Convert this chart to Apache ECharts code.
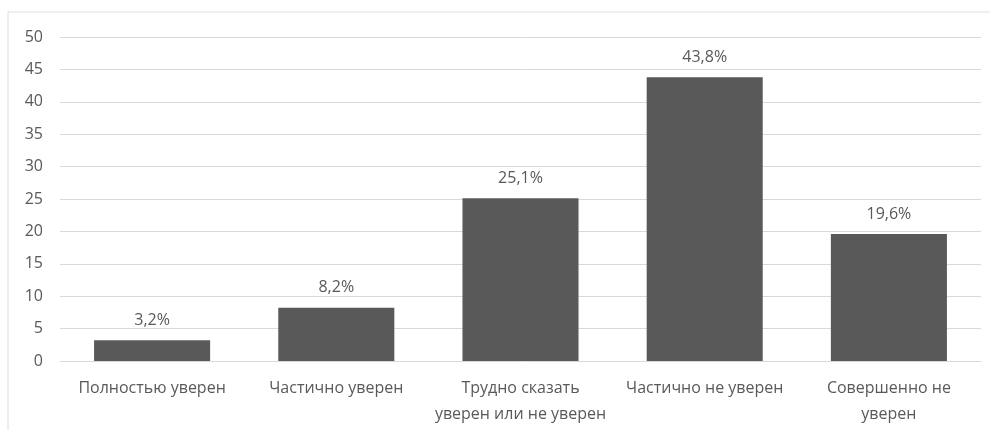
<!DOCTYPE html>
<html>
<head>
<meta charset="utf-8">
<script src="https://cdn.jsdelivr.net/npm/echarts@6/dist/echarts.min.js"></script>
<style>
html,body{margin:0;padding:0;background:#fff;}
#c{width:990px;height:430px;}
</style>
</head>
<body>
<div id="c"></div>
<script>
var categories = ['Полностью уверен', 'Частично уверен', 'Трудно сказать\nуверен или не уверен', 'Частично не уверен', 'Совершенно не\nуверен'];
var values = [3.2, 8.2, 25.1, 43.8, 19.6];
var yTicks = [0, 5, 10, 15, 20, 25, 30, 35, 40, 45, 50];

var chart = echarts.init(document.getElementById('c'), null, {renderer: 'canvas'});
var font = '"Open Sans", "Noto Sans", sans-serif';
chart.setOption({
  animation: false,
  backgroundColor: '#fff',
  graphic: [{
    type: 'rect',
    shape: {x: 8, y: 12, width: 1000, height: 500},
    style: {fill: 'none', stroke: '#dedede', lineWidth: 1},
    silent: true
  }],
  grid: {left: 60, right: 9, top: 37, bottom: 69, containLabel: false},
  xAxis: {
    type: 'category',
    data: categories,
    axisTick: {show: false},
    axisLine: {show: true, lineStyle: {color: '#d9d9d9', width: 1}},
    axisLabel: {color: '#595959', fontSize: 16, fontFamily: font, lineHeight: 26, margin: 14, interval: 0}
  },
  yAxis: {
    type: 'value',
    min: yTicks[0],
    max: yTicks[yTicks.length - 1],
    interval: 5,
    axisLine: {show: false},
    axisTick: {show: false},
    splitLine: {lineStyle: {color: '#d9d9d9', width: 1}},
    axisLabel: {color: '#595959', fontSize: 16, fontFamily: font, margin: 17}
  },
  series: [{
    type: 'bar',
    data: values,
    barWidth: '63%',
    itemStyle: {color: '#595959'},
    label: {
      show: true,
      position: 'top',
      distance: 12,
      color: '#595959',
      fontSize: 16,
      fontFamily: font,
      lineHeight: 16,
      formatter: function (p) { return String(p.value).replace('.', ',') + '%'; }
    }
  }]
});
</script>
</body>
</html>
